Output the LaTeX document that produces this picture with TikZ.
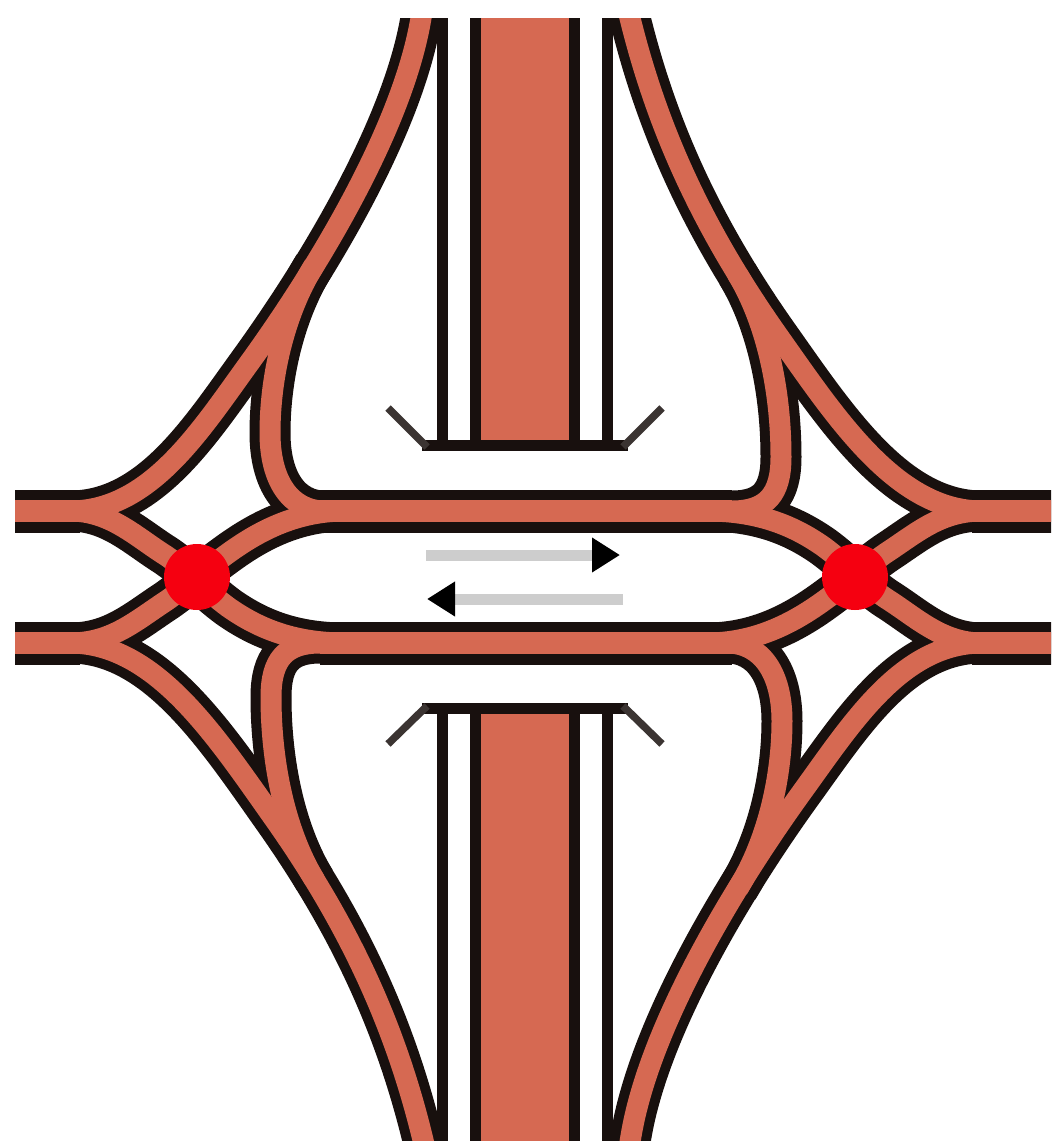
\documentclass[tikz,border=0pt]{standalone}
\usepackage{xcolor}
\usetikzlibrary{arrows.meta}
\definecolor{roadred}{RGB}{214,105,82}
\definecolor{edgeblack}{RGB}{24,16,14}
\definecolor{signalred}{RGB}{245,0,16}
\definecolor{flowgray}{RGB}{205,205,205}
% left half of the junction, the right half is the same turned by 180 degrees
\newcommand{\halfroads}[1]{%
  % upper ramp, outer and inner
  \draw[#1] (70,511) .. controls (150,511) and (200,431) .. (250,362)
    .. controls (320,265) and (403,126) .. (421,18) -- (427,-18);
  \draw[#1] (345,511) -- (325,511) .. controls (290,511) and (270,480) .. (270,433)
    .. controls (270,380) and (283,316) .. (314.3,265);
  % lower ramp, outer and inner
  \draw[#1] (70,643) .. controls (155,643) and (215,735) .. (273,817)
    .. controls (348,923) and (395,1024) .. (423,1140) -- (430,1170);
  \draw[#1] (345,643) -- (320,643) .. controls (285,643) and (271,660) .. (271,697)
    .. controls (271,760) and (284,829) .. (314.7,880);
  % crossovers
  \draw[#1] (70,511) .. controls (110,511) and (135,536) .. (165,555)
    .. controls (185,568) and (205,590) .. (228,607)
    .. controls (255,626) and (290,643) .. (345,643);
  \draw[#1] (70,643) .. controls (110,643) and (133,623) .. (163,603)
    .. controls (180,592) and (205,570) .. (223,557)
    .. controls (250,537) and (290,511) .. (345,511);
}
\begin{document}
\begin{tikzpicture}[
  x=0.02cm,y=-0.02cm,
  casing/.style={edgeblack,line width=0.86cm},
  asphalt/.style={roadred,line width=0.44cm},
  rampcasing/.style={edgeblack,line width=0.82cm,line join=round},
  rampasphalt/.style={roadred,line width=0.42cm,line join=round},
  rail/.style={edgeblack,line width=0.22cm},
  deck/.style={edgeblack,line width=0.22cm},
  wing/.style={edgeblack!85,line width=0.15cm},
  signal/.style={circle,fill=signalred,minimum size=1.32cm,inner sep=0pt},
  flow/.style={flowgray,line width=0.22cm,
               -{Triangle[length=0.56cm,width=0.66cm,black]}}
]
\useasboundingbox (0,0) rectangle (1062,1146);
\begin{scope}
\clip (15,18) rectangle (1051,1140);

% roads, edges first and surface on top
\foreach \edge/\surface in {rampcasing/casing,rampasphalt/asphalt}{
  \halfroads{\edge}
  \begin{scope}[shift={(1052,1154)},xscale=-1,yscale=-1]
    \halfroads{\edge}
  \end{scope}
  \draw[\surface] (-10,511) -- (80,511);
  \draw[\surface] (-10,643) -- (80,643);
  \draw[\surface] (972,511) -- (1062,511);
  \draw[\surface] (972,643) -- (1062,643);
  \draw[\surface] (320,511) -- (732,511);
  \draw[\surface] (320,643) -- (732,643);
}

% overpass, upper part
\draw[rail] (442.5,0) -- (442.5,445);
\draw[rail] (607.5,0) -- (607.5,445);
\draw[edgeblack,line width=2.2cm] (525,0) -- (525,445);
\draw[roadred,line width=1.76cm] (525,0) -- (525,440);
\draw[deck] (422,445.5) -- (628,445.5);
\draw[wing] (388,408) -- (427,447);
\draw[wing] (662,408) -- (623,447);

% overpass, lower part
\draw[rail] (442.5,1146) -- (442.5,708);
\draw[rail] (607.5,1146) -- (607.5,708);
\draw[edgeblack,line width=2.2cm] (525,1146) -- (525,708);
\draw[roadred,line width=1.76cm] (525,1146) -- (525,713);
\draw[deck] (422,708) -- (628,708);
\draw[wing] (388,744) -- (427,706);
\draw[wing] (662,744) -- (623,706);
\end{scope}

% traffic directions
\draw[flow] (426,555) -- (620,555);
\draw[flow] (623,599) -- (427,599);

% signals
\node[signal] (sigleft) at (197,577) {};
\node[signal] (sigright) at (855,577) {};
\end{tikzpicture}
\end{document}
